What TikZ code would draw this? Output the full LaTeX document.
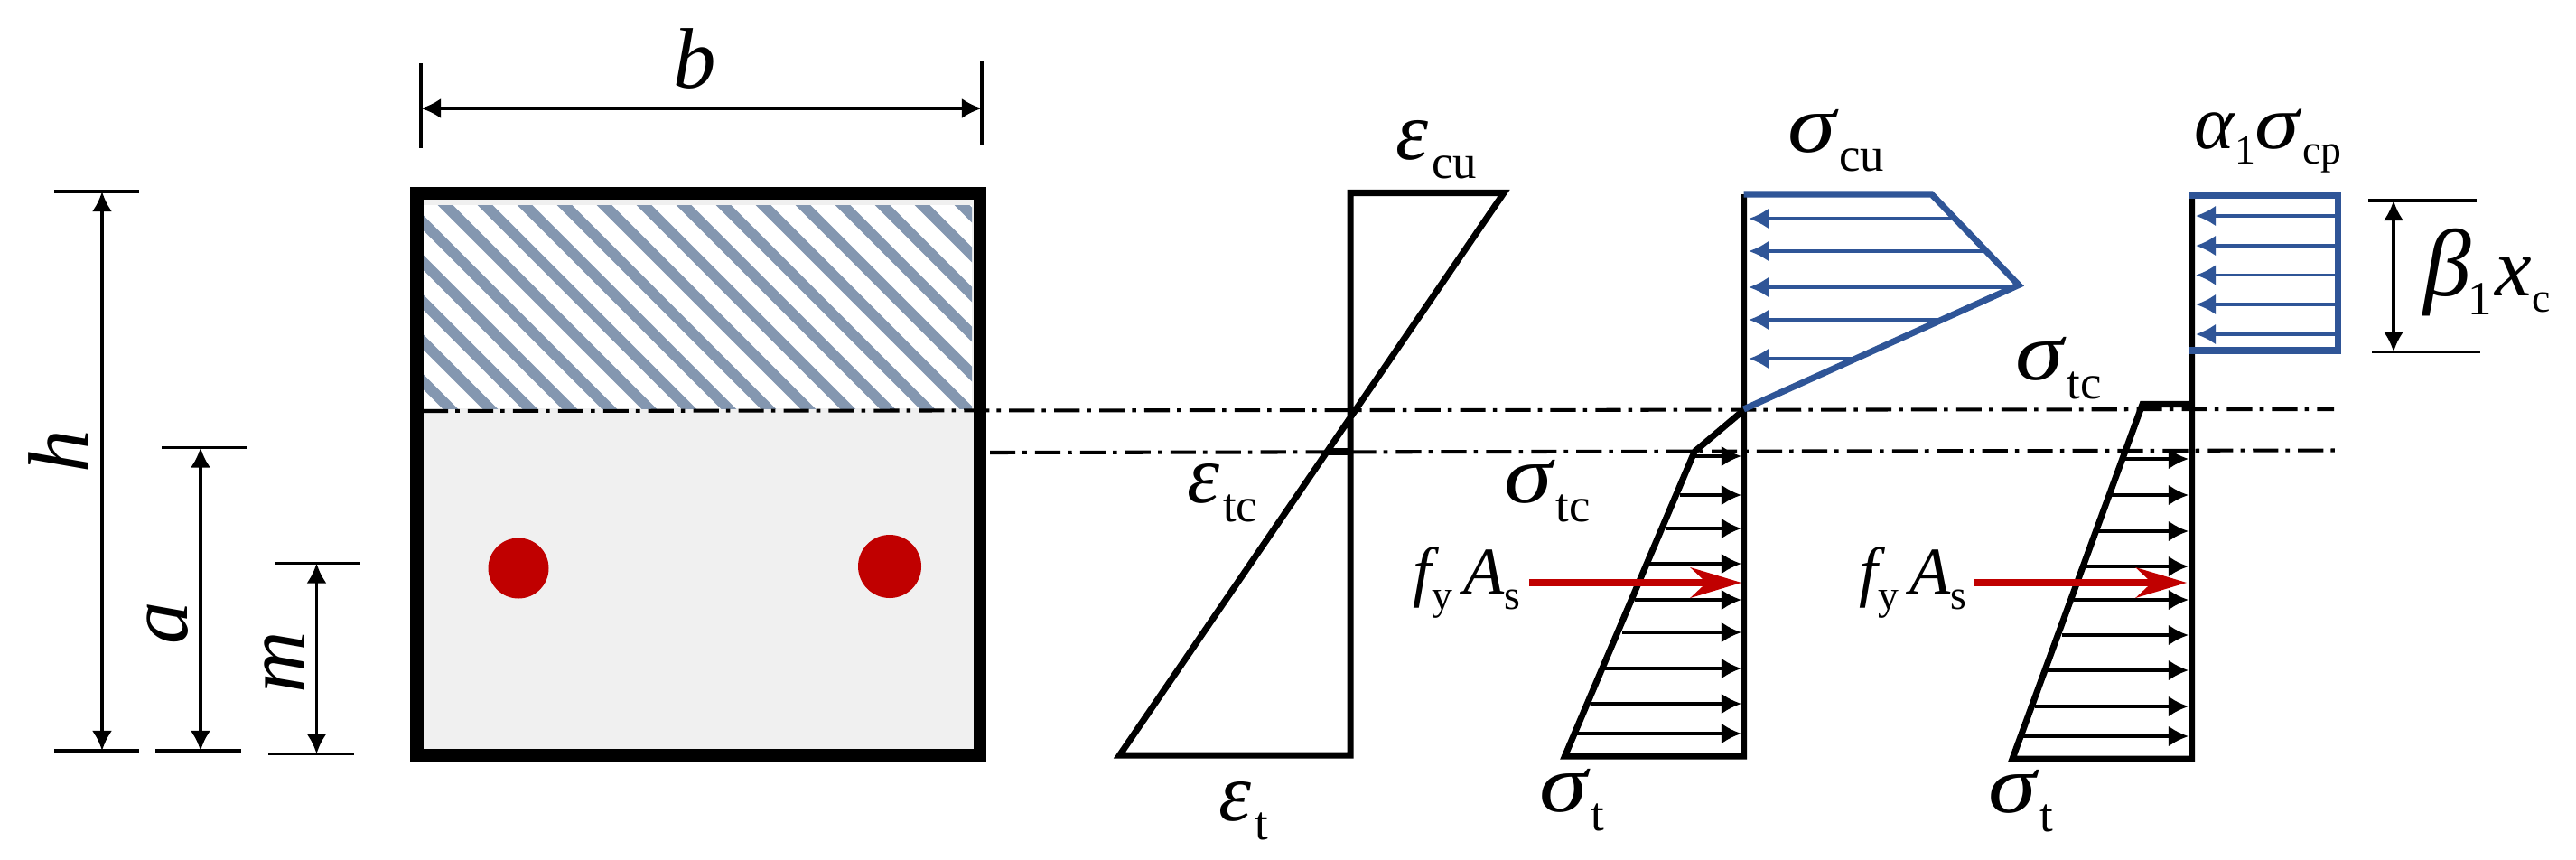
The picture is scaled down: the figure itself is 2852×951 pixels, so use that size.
\documentclass[tikz,border=0pt]{standalone}
\usepackage{fontspec}
\setmainfont{Liberation Serif}
\usetikzlibrary{arrows.meta}
\definecolor{hatchblue}{HTML}{8497B0}
\definecolor{stressblue}{HTML}{2F5597}
\definecolor{steelred}{HTML}{C00000}
\definecolor{sectiongray}{HTML}{F0F0F0}
\newcommand{\subl}[1]{\kern1pt\raisebox{-6pt}{\fontsize{15}{17}\selectfont\upshape #1}}
\newcommand{\subs}[1]{\raisebox{-5pt}{\fontsize{13}{15}\selectfont\upshape #1}}
\newcommand{\wsig}{\scalebox{1.18}[1]{σ}}
\tikzset{
  dimline/.style={line width=1pt,{Latex[length=6.3pt,width=6.3pt]}-{Latex[length=6.3pt,width=6.3pt]}},
  tickline/.style={line width=1pt},
  axisline/.style={line width=1.15pt,dash pattern=on 8pt off 2.3pt on 1.3pt off 2.6pt},
  profile/.style={line width=2pt,line join=miter},
  blueprofile/.style={profile,stressblue},
  loadarrow/.style={line width=1pt,-{Latex[length=6.3pt,width=6.5pt]}},
  blueload/.style={loadarrow,stressblue},
  resultant/.style={line width=2pt,steelred,-{Stealth[length=16pt,width=9.5pt,inset=5pt]}},
  lab/.style={inner sep=0pt,anchor=base west,font=\fontsize{26}{30}\selectfont\itshape},
  forcelab/.style={lab,font=\fontsize{21}{24}\selectfont\itshape},
  dimlab/.style={inner sep=0pt,font=\fontsize{27}{30}\selectfont\itshape}
}
\begin{document}
\begin{tikzpicture}[x=0.01cm,y=-0.01cm]
\useasboundingbox (0,0) rectangle (2852,951);
% section
\fill[sectiongray] (461,214) rectangle (1085,836);
\fill[white] (468,227) rectangle (1076,452);
\begin{scope}
  \clip (468,227) rectangle (1076,452);
  \foreach \c in {2,46,...,882}
    \draw[hatchblue,line width=3.4pt] ({\c+200},200) -- ({\c+480},480);
\end{scope}
\draw[line width=4.2pt] (461.5,214) rectangle (1085,836.5);
\fill[steelred] (574,629) circle (33.5) (985,627) circle (35);
% neutral axis lines
\draw[axisline] (468,455) -- (2584,453);
\draw[axisline] (1096,501) -- (2587,498.5);
% dimensions
\draw[tickline] (466,70) -- (466,164) (1087,67) -- (1087,161);
\draw[dimline] (466,120) -- (1087,120);
\node[dimlab] (blab) at (769,65) {b};
\draw[tickline] (60,212) -- (154,212) (60,831) -- (154,831);
\draw[dimline] (113,212) -- (113,831);
\node[dimlab,rotate=90] (hlab) at (65,500) {h};
\draw[tickline] (179,495.5) -- (273,495.5) (172,831) -- (267,831);
\draw[dimline] (222,495.5) -- (222,831);
\node[dimlab,rotate=90] (alab) at (186,690) {a};
\draw[tickline] (304,623.5) -- (399,623.5) (297,834.5) -- (392,834.5);
\draw[dimline] (350.5,623.5) -- (350.5,834.5);
\node[dimlab,rotate=90] (mlab) at (315,733) {m};
% strain
\draw[profile] (1495,836) -- (1495,213.5) -- (1665,213.5) -- (1239.5,836) -- cycle;
\draw[line width=2pt] (1470,500) -- (1495,500);
\node[lab] (ecu) at (1545,176) {ε\subl{cu}};
\node[lab] (etc) at (1314,556) {ε\subl{tc}};
\node[lab] (et) at (1349,908) {ε\subl{t}};
% stress, first profile
\foreach \y/\x in {505/1876,548/1860,585/1845,624/1826,664/1810,700/1796,740/1776,779/1762,812/1746}
  \draw[loadarrow] (\x,\y) -- (1928,\y);
\foreach \y/\x in {242/2160,278/2196,318/2233,354/2147,397/2052}
  \draw[blueload] (\x,\y) -- (1936,\y);
\draw[profile] (1930.5,215) -- (1930.5,837) -- (1732.5,837) -- (1876,500) -- (1930.5,454);
\draw[blueprofile] (1930.5,215) -- (2138.5,215) -- (2235,315.5) -- (1930.5,453);
\draw[resultant] (1693,645) -- (1928,645);
\node[lab] (scu) at (1979,168) {\wsig\subl{cu}};
\node[lab] (stc) at (1665,556) {\wsig\subl{tc}};
\node[lab] (st) at (1704,898) {\wsig\subl{t}};
\node[forcelab] (fa) at (1578,657) {\kern-4pt f\subs{y}\kern3.5pt A\subs{s}};
% stress, second profile
\foreach \y/\x in {508/2353,548/2338,588/2323,627/2310,664/2296,703/2283,742/2267,782/2253,815/2239}
  \draw[loadarrow] (\x,\y) -- (2423,\y);
\foreach \y in {239,272,304.5,337,370}
  \draw[blueload] (2587,\y) -- (2431,\y);
\draw[profile] (2426.5,218) -- (2426.5,840) -- (2228,840) -- (2372,447.5) -- (2426.5,447.5);
\draw[blueprofile] (2424,216.5) -- (2588.5,216.5) -- (2588.5,388) -- (2424,388);
\draw[resultant] (2185,645) -- (2421,645);
\node[lab,font=\fontsize{24}{28}\selectfont\itshape] (acp) at (2429,164) {α\subs{1}\wsig\kern1pt\subs{cp}};
\node[lab] (stcb) at (2231,420) {\wsig\subl{tc}};
\node[lab] (stb) at (2201,899) {\wsig\subl{t}};
\node[forcelab] (fb) at (2072,657) {\kern-4pt f\subs{y}\kern3.5pt A\subs{s}};
\draw[tickline] (2622,222) -- (2742,222) (2626,389.5) -- (2746,389.5);
\draw[dimline] (2650,222) -- (2650,389.5);
\node[lab] (bxc) at (2683,327.5) {{\fontsize{30}{34}\selectfont β}\kern-2pt\subl{1}\kern1pt x\subs{c}};
\end{tikzpicture}
\end{document}
